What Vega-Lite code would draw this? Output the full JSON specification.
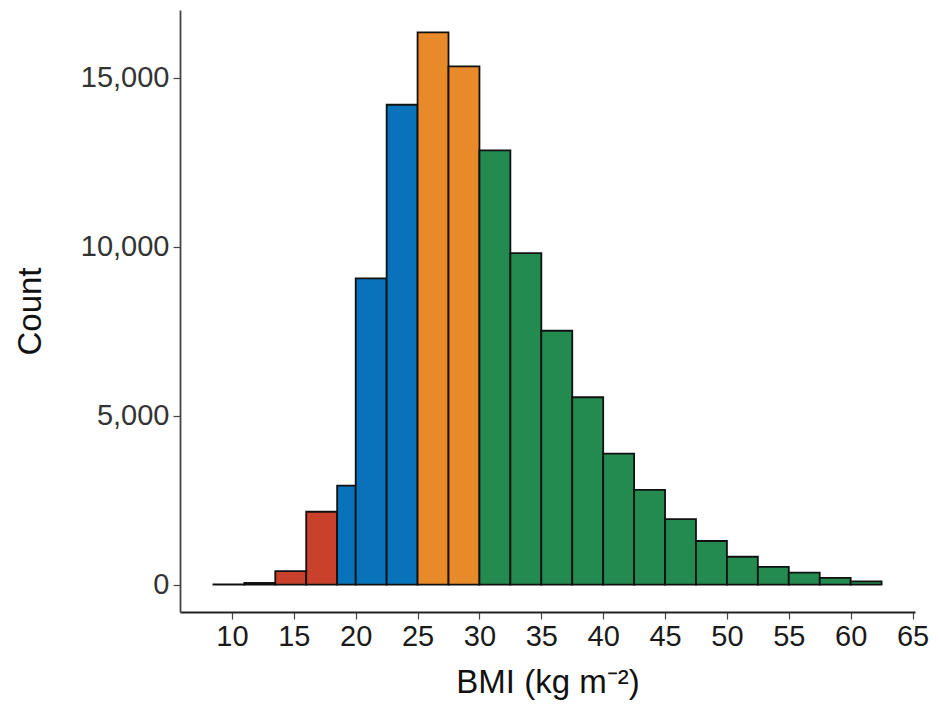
{
  "$schema": "https://vega.github.io/schema/vega-lite/v6.json",
  "autosize": {"type": "none"},
  "padding": {"left": 180, "top": 10, "right": 24, "bottom": 115},
  "width": 735,
  "height": 602,
  "background": "white",
  "config": {"view": {"stroke": null}, "font": "Liberation Sans"},
  "data": {
    "values": [
      {"start": 8.5, "end": 11, "count": 10, "group": "Underweight"},
      {"start": 11, "end": 13.5, "count": 50, "group": "Underweight"},
      {"start": 13.5, "end": 16, "count": 397, "group": "Underweight"},
      {"start": 16, "end": 18.5, "count": 2157, "group": "Underweight"},
      {"start": 18.5, "end": 20, "count": 2932, "group": "Normal"},
      {"start": 20, "end": 22.5, "count": 9066, "group": "Normal"},
      {"start": 22.5, "end": 25, "count": 14205, "group": "Normal"},
      {"start": 25, "end": 27.5, "count": 16350, "group": "Overweight"},
      {"start": 27.5, "end": 30, "count": 15340, "group": "Overweight"},
      {"start": 30, "end": 32.5, "count": 12854, "group": "Obese"},
      {"start": 32.5, "end": 35, "count": 9812, "group": "Obese"},
      {"start": 35, "end": 37.5, "count": 7515, "group": "Obese"},
      {"start": 37.5, "end": 40, "count": 5547, "group": "Obese"},
      {"start": 40, "end": 42.5, "count": 3877, "group": "Obese"},
      {"start": 42.5, "end": 45, "count": 2803, "group": "Obese"},
      {"start": 45, "end": 47.5, "count": 1939, "group": "Obese"},
      {"start": 47.5, "end": 50, "count": 1292, "group": "Obese"},
      {"start": 50, "end": 52.5, "count": 826, "group": "Obese"},
      {"start": 52.5, "end": 55, "count": 528, "group": "Obese"},
      {"start": 55, "end": 57.5, "count": 358, "group": "Obese"},
      {"start": 57.5, "end": 60, "count": 200, "group": "Obese"},
      {"start": 60, "end": 62.5, "count": 98, "group": "Obese"}
    ]
  },
  "mark": {"type": "bar", "stroke": "#111111", "strokeWidth": 1.8, "opacity": 1},
  "encoding": {
    "x": {
      "field": "start", "type": "quantitative",
      "scale": {"domain": [5.8, 65.2], "nice": false, "zero": false},
      "axis": {
        "values": [10, 15, 20, 25, 30, 35, 40, 45, 50, 55, 60, 65],
        "title": "BMI (kg m⁻²)",
        "grid": false, "domainColor": "#222222", "domainWidth": 1.8,
        "tickColor": "#444444", "tickSize": 7, "tickWidth": 1.2,
        "labelFontSize": 29, "labelColor": "#1a1a1a", "labelPadding": 3,
        "titleFontSize": 33, "titleFontWeight": "normal", "titleColor": "#111111",
        "titlePadding": 15
      }
    },
    "x2": {"field": "end"},
    "y": {
      "field": "count", "type": "quantitative",
      "scale": {"domain": [-810, 17010], "nice": false, "zero": false},
      "axis": {
        "values": [0, 5000, 10000, 15000],
        "format": ",d",
        "title": "Count",
        "grid": false, "domainColor": "#444444", "domainWidth": 1.8,
        "tickColor": "#444444", "tickSize": 7, "tickWidth": 1.2,
        "labelFontSize": 29, "labelColor": "#333333", "labelPadding": 4,
        "titleFontSize": 33, "titleFontWeight": "normal", "titleColor": "#111111",
        "titleX": -150, "titleY": 301, "titleAlign": "center", "titleBaseline": "middle", "titleAngle": -90
      }
    },
    "y2": {"datum": 0},
    "color": {
      "field": "group", "type": "nominal",
      "scale": {"domain": ["Underweight", "Normal", "Overweight", "Obese"],
                "range": ["#C9402B", "#0872BA", "#E8892A", "#238A50"]},
      "legend": null
    }
  }
}
